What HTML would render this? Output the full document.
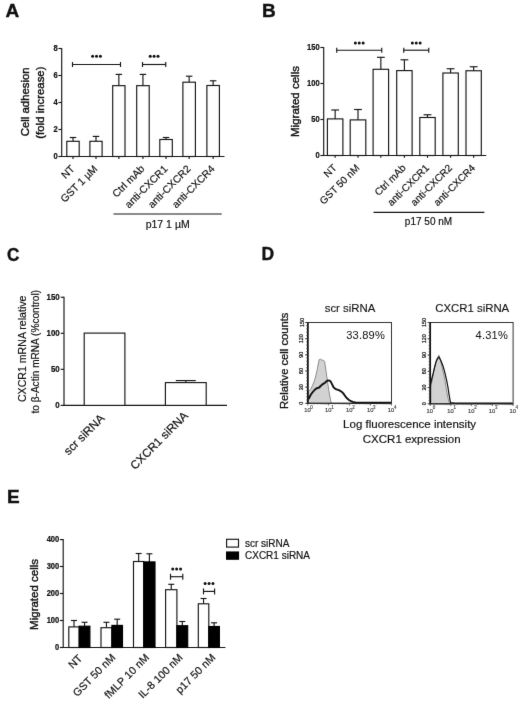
<!DOCTYPE html>
<html><head><meta charset="utf-8"><style>
html,body{margin:0;padding:0;background:#fff;}
svg{display:block;font-family:"Liberation Sans", sans-serif;}
</style></head><body>
<svg width="520" height="702" viewBox="0 0 520 702">
<defs><filter id="soft" x="0" y="0" width="520" height="702" filterUnits="userSpaceOnUse" color-interpolation-filters="sRGB"><feConvolveMatrix order="3" kernelMatrix="1 12 1 12 148 12 1 12 1" divisor="200" edgeMode="duplicate"/></filter></defs>
<g filter="url(#soft)">
<rect width="520" height="702" fill="#fff"/>
<text x="5.50" y="17.10" font-size="19" text-anchor="start" font-weight="bold" fill="#111" stroke="#111" stroke-width="0.4">A</text>
<text x="262.00" y="17.10" font-size="19" text-anchor="start" font-weight="bold" fill="#111" stroke="#111" stroke-width="0.4">B</text>
<text x="7.00" y="261.20" font-size="19" text-anchor="start" font-weight="bold" fill="#111" stroke="#111" stroke-width="0.4" transform="translate(7.00 261.20) scale(0.9 1) translate(-7.00 -261.20)">C</text>
<text x="261.50" y="260.00" font-size="19" text-anchor="start" font-weight="bold" fill="#111" stroke="#111" stroke-width="0.4" transform="translate(261.50 260.00) scale(0.92 1) translate(-261.50 -260.00)">D</text>
<text x="7.00" y="502.70" font-size="19" text-anchor="start" font-weight="bold" fill="#111" stroke="#111" stroke-width="0.4">E</text>
<line x1="61.70" y1="48.00" x2="61.70" y2="157.00" stroke="#161616" stroke-width="1.15"/>
<line x1="61.20" y1="156.50" x2="224.50" y2="156.50" stroke="#161616" stroke-width="1.15"/>
<line x1="58.40" y1="156.50" x2="61.70" y2="156.50" stroke="#161616" stroke-width="1.15"/>
<text x="57.70" y="158.70" font-size="8.6" text-anchor="end" font-weight="bold" fill="#111" stroke="#111" stroke-width="0.22" transform="translate(57.70 158.70) scale(0.88 1) translate(-57.70 -158.70)">0</text>
<line x1="58.40" y1="129.50" x2="61.70" y2="129.50" stroke="#161616" stroke-width="1.15"/>
<text x="57.70" y="131.70" font-size="8.6" text-anchor="end" font-weight="bold" fill="#111" stroke="#111" stroke-width="0.22" transform="translate(57.70 131.70) scale(0.88 1) translate(-57.70 -131.70)">2</text>
<line x1="58.40" y1="102.50" x2="61.70" y2="102.50" stroke="#161616" stroke-width="1.15"/>
<text x="57.70" y="104.70" font-size="8.6" text-anchor="end" font-weight="bold" fill="#111" stroke="#111" stroke-width="0.22" transform="translate(57.70 104.70) scale(0.88 1) translate(-57.70 -104.70)">4</text>
<line x1="58.40" y1="75.50" x2="61.70" y2="75.50" stroke="#161616" stroke-width="1.15"/>
<text x="57.70" y="77.70" font-size="8.6" text-anchor="end" font-weight="bold" fill="#111" stroke="#111" stroke-width="0.22" transform="translate(57.70 77.70) scale(0.88 1) translate(-57.70 -77.70)">6</text>
<line x1="58.40" y1="48.50" x2="61.70" y2="48.50" stroke="#161616" stroke-width="1.15"/>
<text x="57.70" y="50.70" font-size="8.6" text-anchor="end" font-weight="bold" fill="#111" stroke="#111" stroke-width="0.22" transform="translate(57.70 50.70) scale(0.88 1) translate(-57.70 -50.70)">8</text>
<line x1="73.00" y1="141.30" x2="73.00" y2="137.50" stroke="#161616" stroke-width="1.15"/>
<line x1="69.75" y1="137.50" x2="76.25" y2="137.50" stroke="#161616" stroke-width="1.15"/>
<rect x="66.80" y="141.30" width="12.40" height="15.20" fill="#fff" stroke="#161616" stroke-width="1.15"/>
<line x1="73.00" y1="156.50" x2="73.00" y2="159.10" stroke="#161616" stroke-width="1.15"/>
<line x1="96.00" y1="141.30" x2="96.00" y2="136.40" stroke="#161616" stroke-width="1.15"/>
<line x1="92.75" y1="136.40" x2="99.25" y2="136.40" stroke="#161616" stroke-width="1.15"/>
<rect x="89.90" y="141.30" width="12.20" height="15.20" fill="#fff" stroke="#161616" stroke-width="1.15"/>
<line x1="96.00" y1="156.50" x2="96.00" y2="159.10" stroke="#161616" stroke-width="1.15"/>
<line x1="118.85" y1="85.65" x2="118.85" y2="74.40" stroke="#161616" stroke-width="1.15"/>
<line x1="115.60" y1="74.40" x2="122.10" y2="74.40" stroke="#161616" stroke-width="1.15"/>
<rect x="112.70" y="85.65" width="12.30" height="70.85" fill="#fff" stroke="#161616" stroke-width="1.15"/>
<line x1="118.85" y1="156.50" x2="118.85" y2="159.10" stroke="#161616" stroke-width="1.15"/>
<line x1="142.95" y1="85.65" x2="142.95" y2="74.40" stroke="#161616" stroke-width="1.15"/>
<line x1="139.70" y1="74.40" x2="146.20" y2="74.40" stroke="#161616" stroke-width="1.15"/>
<rect x="136.70" y="85.65" width="12.50" height="70.85" fill="#fff" stroke="#161616" stroke-width="1.15"/>
<line x1="142.95" y1="156.50" x2="142.95" y2="159.10" stroke="#161616" stroke-width="1.15"/>
<line x1="166.05" y1="139.50" x2="166.05" y2="137.50" stroke="#161616" stroke-width="1.15"/>
<line x1="162.80" y1="137.50" x2="169.30" y2="137.50" stroke="#161616" stroke-width="1.15"/>
<rect x="159.80" y="139.50" width="12.50" height="17.00" fill="#fff" stroke="#161616" stroke-width="1.15"/>
<line x1="166.05" y1="156.50" x2="166.05" y2="159.10" stroke="#161616" stroke-width="1.15"/>
<line x1="189.15" y1="82.20" x2="189.15" y2="76.20" stroke="#161616" stroke-width="1.15"/>
<line x1="185.90" y1="76.20" x2="192.40" y2="76.20" stroke="#161616" stroke-width="1.15"/>
<rect x="182.90" y="82.20" width="12.50" height="74.30" fill="#fff" stroke="#161616" stroke-width="1.15"/>
<line x1="189.15" y1="156.50" x2="189.15" y2="159.10" stroke="#161616" stroke-width="1.15"/>
<line x1="213.15" y1="85.50" x2="213.15" y2="80.80" stroke="#161616" stroke-width="1.15"/>
<line x1="209.90" y1="80.80" x2="216.40" y2="80.80" stroke="#161616" stroke-width="1.15"/>
<rect x="206.90" y="85.50" width="12.50" height="71.00" fill="#fff" stroke="#161616" stroke-width="1.15"/>
<line x1="213.15" y1="156.50" x2="213.15" y2="159.10" stroke="#161616" stroke-width="1.15"/>
<line x1="72.50" y1="64.50" x2="120.50" y2="64.50" stroke="#161616" stroke-width="1.15"/>
<line x1="72.50" y1="62.00" x2="72.50" y2="67.00" stroke="#161616" stroke-width="1.15"/>
<line x1="120.50" y1="62.00" x2="120.50" y2="67.00" stroke="#161616" stroke-width="1.15"/>
<circle cx="92.60" cy="56.30" r="1.5" fill="#111"/>
<circle cx="96.50" cy="56.30" r="1.5" fill="#111"/>
<circle cx="100.40" cy="56.30" r="1.5" fill="#111"/>
<line x1="142.50" y1="64.50" x2="165.75" y2="64.50" stroke="#161616" stroke-width="1.15"/>
<line x1="142.50" y1="62.00" x2="142.50" y2="67.00" stroke="#161616" stroke-width="1.15"/>
<line x1="165.75" y1="62.00" x2="165.75" y2="67.00" stroke="#161616" stroke-width="1.15"/>
<circle cx="150.22" cy="56.30" r="1.5" fill="#111"/>
<circle cx="154.12" cy="56.30" r="1.5" fill="#111"/>
<circle cx="158.03" cy="56.30" r="1.5" fill="#111"/>
<text x="75.20" y="169.50" font-size="10.4" text-anchor="end" font-weight="normal" fill="#111" stroke="#111" stroke-width="0.18" transform="rotate(-45 75.20 169.50)">NT</text>
<text x="98.20" y="169.50" font-size="10.4" text-anchor="end" font-weight="normal" fill="#111" stroke="#111" stroke-width="0.18" transform="rotate(-45 98.20 169.50)">GST 1 &#181;M</text>
<text x="145.15" y="169.50" font-size="10.4" text-anchor="end" font-weight="normal" fill="#111" stroke="#111" stroke-width="0.18" transform="rotate(-45 145.15 169.50)">Ctrl mAb</text>
<text x="168.25" y="169.50" font-size="10.4" text-anchor="end" font-weight="normal" fill="#111" stroke="#111" stroke-width="0.18" transform="rotate(-45 168.25 169.50)">anti-CXCR1</text>
<text x="191.35" y="169.50" font-size="10.4" text-anchor="end" font-weight="normal" fill="#111" stroke="#111" stroke-width="0.18" transform="rotate(-45 191.35 169.50)">anti-CXCR2</text>
<text x="215.35" y="169.50" font-size="10.4" text-anchor="end" font-weight="normal" fill="#111" stroke="#111" stroke-width="0.18" transform="rotate(-45 215.35 169.50)">anti-CXCR4</text>
<line x1="113.50" y1="214.00" x2="221.70" y2="214.00" stroke="#161616" stroke-width="1.15"/>
<text x="167.70" y="227.70" font-size="10.5" text-anchor="middle" font-weight="normal" fill="#111" stroke="#111" stroke-width="0.18">p17 1 &#181;M</text>
<text x="29.00" y="101.80" font-size="11.4" text-anchor="middle" font-weight="normal" fill="#111" stroke="#111" stroke-width="0.4" transform="rotate(-90 29.00 101.80)">Cell adhesion</text>
<text x="44.00" y="102.60" font-size="11.4" text-anchor="middle" font-weight="normal" fill="#111" stroke="#111" stroke-width="0.4" transform="rotate(-90 44.00 102.60)">(fold increase)</text>
<line x1="323.70" y1="47.00" x2="323.70" y2="156.00" stroke="#161616" stroke-width="1.15"/>
<line x1="323.20" y1="155.50" x2="486.25" y2="155.50" stroke="#161616" stroke-width="1.15"/>
<line x1="320.40" y1="155.50" x2="323.70" y2="155.50" stroke="#161616" stroke-width="1.15"/>
<text x="319.70" y="158.20" font-size="8.6" text-anchor="end" font-weight="bold" fill="#111" stroke="#111" stroke-width="0.22" transform="translate(319.70 158.20) scale(0.88 1) translate(-319.70 -158.20)">0</text>
<line x1="320.40" y1="119.50" x2="323.70" y2="119.50" stroke="#161616" stroke-width="1.15"/>
<text x="319.70" y="122.20" font-size="8.6" text-anchor="end" font-weight="bold" fill="#111" stroke="#111" stroke-width="0.22" transform="translate(319.70 122.20) scale(0.88 1) translate(-319.70 -122.20)">50</text>
<line x1="320.40" y1="83.50" x2="323.70" y2="83.50" stroke="#161616" stroke-width="1.15"/>
<text x="319.70" y="86.20" font-size="8.6" text-anchor="end" font-weight="bold" fill="#111" stroke="#111" stroke-width="0.22" transform="translate(319.70 86.20) scale(0.88 1) translate(-319.70 -86.20)">100</text>
<line x1="320.40" y1="47.50" x2="323.70" y2="47.50" stroke="#161616" stroke-width="1.15"/>
<text x="319.70" y="50.20" font-size="8.6" text-anchor="end" font-weight="bold" fill="#111" stroke="#111" stroke-width="0.22" transform="translate(319.70 50.20) scale(0.88 1) translate(-319.70 -50.20)">150</text>
<line x1="335.15" y1="118.90" x2="335.15" y2="110.00" stroke="#161616" stroke-width="1.15"/>
<line x1="331.25" y1="110.00" x2="339.05" y2="110.00" stroke="#161616" stroke-width="1.15"/>
<rect x="327.40" y="118.90" width="15.50" height="36.60" fill="#fff" stroke="#161616" stroke-width="1.15"/>
<line x1="335.15" y1="155.50" x2="335.15" y2="157.80" stroke="#161616" stroke-width="1.15"/>
<line x1="358.00" y1="119.90" x2="358.00" y2="109.50" stroke="#161616" stroke-width="1.15"/>
<line x1="354.10" y1="109.50" x2="361.90" y2="109.50" stroke="#161616" stroke-width="1.15"/>
<rect x="350.20" y="119.90" width="15.60" height="35.60" fill="#fff" stroke="#161616" stroke-width="1.15"/>
<line x1="358.00" y1="155.50" x2="358.00" y2="157.80" stroke="#161616" stroke-width="1.15"/>
<line x1="380.85" y1="69.30" x2="380.85" y2="57.30" stroke="#161616" stroke-width="1.15"/>
<line x1="376.95" y1="57.30" x2="384.75" y2="57.30" stroke="#161616" stroke-width="1.15"/>
<rect x="373.10" y="69.30" width="15.50" height="86.20" fill="#fff" stroke="#161616" stroke-width="1.15"/>
<line x1="380.85" y1="155.50" x2="380.85" y2="157.80" stroke="#161616" stroke-width="1.15"/>
<line x1="404.40" y1="70.60" x2="404.40" y2="59.80" stroke="#161616" stroke-width="1.15"/>
<line x1="400.50" y1="59.80" x2="408.30" y2="59.80" stroke="#161616" stroke-width="1.15"/>
<rect x="396.70" y="70.60" width="15.40" height="84.90" fill="#fff" stroke="#161616" stroke-width="1.15"/>
<line x1="404.40" y1="155.50" x2="404.40" y2="157.80" stroke="#161616" stroke-width="1.15"/>
<line x1="427.50" y1="117.50" x2="427.50" y2="114.75" stroke="#161616" stroke-width="1.15"/>
<line x1="423.60" y1="114.75" x2="431.40" y2="114.75" stroke="#161616" stroke-width="1.15"/>
<rect x="419.80" y="117.50" width="15.40" height="38.00" fill="#fff" stroke="#161616" stroke-width="1.15"/>
<line x1="427.50" y1="155.50" x2="427.50" y2="157.80" stroke="#161616" stroke-width="1.15"/>
<line x1="450.60" y1="73.00" x2="450.60" y2="68.75" stroke="#161616" stroke-width="1.15"/>
<line x1="446.70" y1="68.75" x2="454.50" y2="68.75" stroke="#161616" stroke-width="1.15"/>
<rect x="442.90" y="73.00" width="15.40" height="82.50" fill="#fff" stroke="#161616" stroke-width="1.15"/>
<line x1="450.60" y1="155.50" x2="450.60" y2="157.80" stroke="#161616" stroke-width="1.15"/>
<line x1="473.65" y1="70.75" x2="473.65" y2="66.75" stroke="#161616" stroke-width="1.15"/>
<line x1="469.75" y1="66.75" x2="477.55" y2="66.75" stroke="#161616" stroke-width="1.15"/>
<rect x="466.00" y="70.75" width="15.30" height="84.75" fill="#fff" stroke="#161616" stroke-width="1.15"/>
<line x1="473.65" y1="155.50" x2="473.65" y2="157.80" stroke="#161616" stroke-width="1.15"/>
<line x1="336.75" y1="50.20" x2="381.75" y2="50.20" stroke="#161616" stroke-width="1.15"/>
<line x1="336.75" y1="47.70" x2="336.75" y2="52.70" stroke="#161616" stroke-width="1.15"/>
<line x1="381.75" y1="47.70" x2="381.75" y2="52.70" stroke="#161616" stroke-width="1.15"/>
<circle cx="355.35" cy="43.10" r="1.5" fill="#111"/>
<circle cx="359.25" cy="43.10" r="1.5" fill="#111"/>
<circle cx="363.15" cy="43.10" r="1.5" fill="#111"/>
<line x1="403.75" y1="50.20" x2="428.75" y2="50.20" stroke="#161616" stroke-width="1.15"/>
<line x1="403.75" y1="47.70" x2="403.75" y2="52.70" stroke="#161616" stroke-width="1.15"/>
<line x1="428.75" y1="47.70" x2="428.75" y2="52.70" stroke="#161616" stroke-width="1.15"/>
<circle cx="412.35" cy="43.10" r="1.5" fill="#111"/>
<circle cx="416.25" cy="43.10" r="1.5" fill="#111"/>
<circle cx="420.15" cy="43.10" r="1.5" fill="#111"/>
<text x="337.35" y="168.50" font-size="10.1" text-anchor="end" font-weight="normal" fill="#111" stroke="#111" stroke-width="0.18" transform="rotate(-45 337.35 168.50)">NT</text>
<text x="360.20" y="168.50" font-size="10.1" text-anchor="end" font-weight="normal" fill="#111" stroke="#111" stroke-width="0.18" transform="rotate(-45 360.20 168.50)">GST 50 nM</text>
<text x="406.60" y="168.50" font-size="10.1" text-anchor="end" font-weight="normal" fill="#111" stroke="#111" stroke-width="0.18" transform="rotate(-45 406.60 168.50)">Ctrl mAb</text>
<text x="429.70" y="168.50" font-size="10.1" text-anchor="end" font-weight="normal" fill="#111" stroke="#111" stroke-width="0.18" transform="rotate(-45 429.70 168.50)">anti-CXCR1</text>
<text x="452.80" y="168.50" font-size="10.1" text-anchor="end" font-weight="normal" fill="#111" stroke="#111" stroke-width="0.18" transform="rotate(-45 452.80 168.50)">anti-CXCR2</text>
<text x="475.85" y="168.50" font-size="10.1" text-anchor="end" font-weight="normal" fill="#111" stroke="#111" stroke-width="0.18" transform="rotate(-45 475.85 168.50)">anti-CXCR4</text>
<line x1="373.50" y1="212.30" x2="484.40" y2="212.30" stroke="#161616" stroke-width="1.15"/>
<text x="428.50" y="225.40" font-size="10" text-anchor="middle" font-weight="normal" fill="#111" stroke="#111" stroke-width="0.18">p17 50 nM</text>
<text x="298.90" y="101.50" font-size="11.5" text-anchor="middle" font-weight="normal" fill="#111" stroke="#111" stroke-width="0.4" transform="rotate(-90 298.90 101.50)">Migrated cells</text>
<line x1="64.00" y1="296.75" x2="64.00" y2="405.90" stroke="#161616" stroke-width="1.15"/>
<line x1="63.50" y1="405.40" x2="227.00" y2="405.40" stroke="#161616" stroke-width="1.15"/>
<line x1="60.70" y1="405.40" x2="64.00" y2="405.40" stroke="#161616" stroke-width="1.15"/>
<text x="59.70" y="408.40" font-size="8.6" text-anchor="end" font-weight="bold" fill="#111" stroke="#111" stroke-width="0.22" transform="translate(59.70 408.40) scale(0.92 1) translate(-59.70 -408.40)">0</text>
<line x1="60.70" y1="369.35" x2="64.00" y2="369.35" stroke="#161616" stroke-width="1.15"/>
<text x="59.70" y="372.35" font-size="8.6" text-anchor="end" font-weight="bold" fill="#111" stroke="#111" stroke-width="0.22" transform="translate(59.70 372.35) scale(0.92 1) translate(-59.70 -372.35)">50</text>
<line x1="60.70" y1="333.30" x2="64.00" y2="333.30" stroke="#161616" stroke-width="1.15"/>
<text x="59.70" y="336.30" font-size="8.6" text-anchor="end" font-weight="bold" fill="#111" stroke="#111" stroke-width="0.22" transform="translate(59.70 336.30) scale(0.92 1) translate(-59.70 -336.30)">100</text>
<line x1="60.70" y1="297.25" x2="64.00" y2="297.25" stroke="#161616" stroke-width="1.15"/>
<text x="59.70" y="300.25" font-size="8.6" text-anchor="end" font-weight="bold" fill="#111" stroke="#111" stroke-width="0.22" transform="translate(59.70 300.25) scale(0.92 1) translate(-59.70 -300.25)">150</text>
<rect x="84.20" y="333.10" width="40.70" height="72.30" fill="#fff" stroke="#161616" stroke-width="1.15"/>
<line x1="185.80" y1="382.60" x2="185.80" y2="380.60" stroke="#161616" stroke-width="1.15"/>
<line x1="175.80" y1="380.60" x2="195.80" y2="380.60" stroke="#161616" stroke-width="1.15"/>
<rect x="165.40" y="382.60" width="40.80" height="22.80" fill="#fff" stroke="#161616" stroke-width="1.15"/>
<text x="105.30" y="419.00" font-size="11.7" text-anchor="end" font-weight="normal" fill="#111" stroke="#111" stroke-width="0.18" transform="rotate(-45 105.30 419.00)">scr siRNA</text>
<text x="188.70" y="416.40" font-size="11.7" text-anchor="end" font-weight="normal" fill="#111" stroke="#111" stroke-width="0.18" transform="rotate(-45 188.70 416.40)">CXCR1 siRNA</text>
<text x="26.00" y="348.80" font-size="10.6" text-anchor="middle" font-weight="normal" fill="#111" stroke="#111" stroke-width="0.18" transform="rotate(-90 26.00 348.80)">CXCR1 mRNA relative</text>
<text x="38.60" y="351.70" font-size="10.1" text-anchor="middle" font-weight="normal" fill="#111" stroke="#111" stroke-width="0.18" transform="rotate(-90 38.60 351.70)">to &#946;-Actin mRNA (%control)</text>
<rect x="307.80" y="322.50" width="83.70" height="80.80" fill="#fff" stroke="#333" stroke-width="1.0"/>
<text x="350.00" y="311.50" font-size="11.4" text-anchor="middle" font-weight="normal" fill="#111" stroke="#111" stroke-width="0.12">scr siRNA</text>
<text x="385.00" y="339.00" font-size="11.1" text-anchor="end" font-weight="normal" fill="#111" stroke="#111" stroke-width="0.02" letter-spacing="0.2">33.89%</text>
<polygon points="308.5,403.2 308.5,391.5 310.6,389.4 312.5,385.5 314.4,380.8 316.0,375.0 317.3,369.2 318.4,363.0 319.2,359.6 320.5,359.2 322.0,360.2 323.5,360.3 324.6,361.5 325.6,368.0 326.9,376.9 328.8,390.4 330.2,398.0 331.3,403.2" fill="#d2d2d2" stroke="#666" stroke-width="0.7" stroke-linejoin="round"/>
<polyline points="308.6,399.0 310.5,395.3 312.5,392.3 314.5,390.0 316.3,388.5 318.0,387.8 319.2,387.5 320.6,386.0 322.1,384.6 323.6,383.6 325.0,382.7 326.5,381.3 327.9,380.4 329.5,380.6 330.8,381.7 332.3,384.8 333.7,387.5 335.0,388.6 336.5,389.4 338.0,389.8 339.4,390.4 340.8,391.2 342.3,392.3 343.8,394.0 345.2,396.2 347.0,398.3 349.0,400.0 351.0,401.2 352.9,401.9 356.0,402.6 391.0,402.8" fill="none" stroke="#111" stroke-width="1.9" stroke-linejoin="round"/>
<line x1="307.80" y1="403.30" x2="391.50" y2="403.30" stroke="#1a1a1a" stroke-width="1.1"/>
<line x1="307.80" y1="322.00" x2="307.80" y2="403.80" stroke="#111" stroke-width="1.7"/>
<line x1="306.20" y1="403.30" x2="307.80" y2="403.30" stroke="#444" stroke-width="0.8"/>
<line x1="306.20" y1="400.07" x2="307.80" y2="400.07" stroke="#444" stroke-width="0.8"/>
<line x1="306.20" y1="396.84" x2="307.80" y2="396.84" stroke="#444" stroke-width="0.8"/>
<line x1="306.20" y1="393.60" x2="307.80" y2="393.60" stroke="#444" stroke-width="0.8"/>
<line x1="306.20" y1="390.37" x2="307.80" y2="390.37" stroke="#444" stroke-width="0.8"/>
<line x1="306.20" y1="387.14" x2="307.80" y2="387.14" stroke="#444" stroke-width="0.8"/>
<line x1="306.20" y1="383.91" x2="307.80" y2="383.91" stroke="#444" stroke-width="0.8"/>
<line x1="306.20" y1="380.68" x2="307.80" y2="380.68" stroke="#444" stroke-width="0.8"/>
<line x1="306.20" y1="377.44" x2="307.80" y2="377.44" stroke="#444" stroke-width="0.8"/>
<line x1="306.20" y1="374.21" x2="307.80" y2="374.21" stroke="#444" stroke-width="0.8"/>
<line x1="306.20" y1="370.98" x2="307.80" y2="370.98" stroke="#444" stroke-width="0.8"/>
<line x1="306.20" y1="367.75" x2="307.80" y2="367.75" stroke="#444" stroke-width="0.8"/>
<line x1="306.20" y1="364.52" x2="307.80" y2="364.52" stroke="#444" stroke-width="0.8"/>
<line x1="306.20" y1="361.28" x2="307.80" y2="361.28" stroke="#444" stroke-width="0.8"/>
<line x1="306.20" y1="358.05" x2="307.80" y2="358.05" stroke="#444" stroke-width="0.8"/>
<line x1="306.20" y1="354.82" x2="307.80" y2="354.82" stroke="#444" stroke-width="0.8"/>
<line x1="306.20" y1="351.59" x2="307.80" y2="351.59" stroke="#444" stroke-width="0.8"/>
<line x1="306.20" y1="348.36" x2="307.80" y2="348.36" stroke="#444" stroke-width="0.8"/>
<line x1="306.20" y1="345.12" x2="307.80" y2="345.12" stroke="#444" stroke-width="0.8"/>
<line x1="306.20" y1="341.89" x2="307.80" y2="341.89" stroke="#444" stroke-width="0.8"/>
<line x1="306.20" y1="338.66" x2="307.80" y2="338.66" stroke="#444" stroke-width="0.8"/>
<line x1="306.20" y1="335.43" x2="307.80" y2="335.43" stroke="#444" stroke-width="0.8"/>
<line x1="306.20" y1="332.20" x2="307.80" y2="332.20" stroke="#444" stroke-width="0.8"/>
<line x1="306.20" y1="328.96" x2="307.80" y2="328.96" stroke="#444" stroke-width="0.8"/>
<line x1="306.20" y1="325.73" x2="307.80" y2="325.73" stroke="#444" stroke-width="0.8"/>
<line x1="306.20" y1="322.50" x2="307.80" y2="322.50" stroke="#444" stroke-width="0.8"/>
<text x="303.50" y="403.30" font-size="5.4" text-anchor="middle" font-weight="normal" fill="#222" stroke="#222" stroke-width="0.25" transform="rotate(-90 303.50 403.30)">0</text>
<line x1="305.20" y1="403.30" x2="307.80" y2="403.30" stroke="#333" stroke-width="0.9"/>
<text x="303.50" y="387.14" font-size="5.4" text-anchor="middle" font-weight="normal" fill="#222" stroke="#222" stroke-width="0.25" transform="rotate(-90 303.50 387.14)">30</text>
<line x1="305.20" y1="387.14" x2="307.80" y2="387.14" stroke="#333" stroke-width="0.9"/>
<text x="303.50" y="370.98" font-size="5.4" text-anchor="middle" font-weight="normal" fill="#222" stroke="#222" stroke-width="0.25" transform="rotate(-90 303.50 370.98)">60</text>
<line x1="305.20" y1="370.98" x2="307.80" y2="370.98" stroke="#333" stroke-width="0.9"/>
<text x="303.50" y="354.82" font-size="5.4" text-anchor="middle" font-weight="normal" fill="#222" stroke="#222" stroke-width="0.25" transform="rotate(-90 303.50 354.82)">90</text>
<line x1="305.20" y1="354.82" x2="307.80" y2="354.82" stroke="#333" stroke-width="0.9"/>
<text x="303.50" y="338.66" font-size="5.4" text-anchor="middle" font-weight="normal" fill="#222" stroke="#222" stroke-width="0.25" transform="rotate(-90 303.50 338.66)">120</text>
<line x1="305.20" y1="338.66" x2="307.80" y2="338.66" stroke="#333" stroke-width="0.9"/>
<text x="303.50" y="322.50" font-size="5.4" text-anchor="middle" font-weight="normal" fill="#222" stroke="#222" stroke-width="0.25" transform="rotate(-90 303.50 322.50)">150</text>
<line x1="305.20" y1="322.50" x2="307.80" y2="322.50" stroke="#333" stroke-width="0.9"/>
<text x="307.40" y="412.30" font-size="5.8" text-anchor="middle" font-weight="normal" fill="#3a3a3a" stroke="#3a3a3a" stroke-width="0.15">10</text>
<text x="310.30" y="408.90" font-size="4.5" text-anchor="start" font-weight="normal" fill="#3a3a3a" stroke="#3a3a3a" stroke-width="0.12">0</text>
<line x1="307.80" y1="403.30" x2="307.80" y2="405.50" stroke="#444" stroke-width="0.8"/>
<line x1="314.10" y1="403.30" x2="314.10" y2="404.60" stroke="#555" stroke-width="0.6"/>
<line x1="317.78" y1="403.30" x2="317.78" y2="404.60" stroke="#555" stroke-width="0.6"/>
<line x1="320.40" y1="403.30" x2="320.40" y2="404.60" stroke="#555" stroke-width="0.6"/>
<line x1="322.43" y1="403.30" x2="322.43" y2="404.60" stroke="#555" stroke-width="0.6"/>
<line x1="324.08" y1="403.30" x2="324.08" y2="404.60" stroke="#555" stroke-width="0.6"/>
<line x1="325.48" y1="403.30" x2="325.48" y2="404.60" stroke="#555" stroke-width="0.6"/>
<line x1="326.70" y1="403.30" x2="326.70" y2="404.60" stroke="#555" stroke-width="0.6"/>
<line x1="327.77" y1="403.30" x2="327.77" y2="404.60" stroke="#555" stroke-width="0.6"/>
<text x="328.33" y="412.30" font-size="5.8" text-anchor="middle" font-weight="normal" fill="#3a3a3a" stroke="#3a3a3a" stroke-width="0.15">10</text>
<text x="331.23" y="408.90" font-size="4.5" text-anchor="start" font-weight="normal" fill="#3a3a3a" stroke="#3a3a3a" stroke-width="0.12">1</text>
<line x1="328.73" y1="403.30" x2="328.73" y2="405.50" stroke="#444" stroke-width="0.8"/>
<line x1="335.02" y1="403.30" x2="335.02" y2="404.60" stroke="#555" stroke-width="0.6"/>
<line x1="338.71" y1="403.30" x2="338.71" y2="404.60" stroke="#555" stroke-width="0.6"/>
<line x1="341.32" y1="403.30" x2="341.32" y2="404.60" stroke="#555" stroke-width="0.6"/>
<line x1="343.35" y1="403.30" x2="343.35" y2="404.60" stroke="#555" stroke-width="0.6"/>
<line x1="345.01" y1="403.30" x2="345.01" y2="404.60" stroke="#555" stroke-width="0.6"/>
<line x1="346.41" y1="403.30" x2="346.41" y2="404.60" stroke="#555" stroke-width="0.6"/>
<line x1="347.62" y1="403.30" x2="347.62" y2="404.60" stroke="#555" stroke-width="0.6"/>
<line x1="348.69" y1="403.30" x2="348.69" y2="404.60" stroke="#555" stroke-width="0.6"/>
<text x="349.25" y="412.30" font-size="5.8" text-anchor="middle" font-weight="normal" fill="#3a3a3a" stroke="#3a3a3a" stroke-width="0.15">10</text>
<text x="352.15" y="408.90" font-size="4.5" text-anchor="start" font-weight="normal" fill="#3a3a3a" stroke="#3a3a3a" stroke-width="0.12">2</text>
<line x1="349.65" y1="403.30" x2="349.65" y2="405.50" stroke="#444" stroke-width="0.8"/>
<line x1="355.95" y1="403.30" x2="355.95" y2="404.60" stroke="#555" stroke-width="0.6"/>
<line x1="359.63" y1="403.30" x2="359.63" y2="404.60" stroke="#555" stroke-width="0.6"/>
<line x1="362.25" y1="403.30" x2="362.25" y2="404.60" stroke="#555" stroke-width="0.6"/>
<line x1="364.28" y1="403.30" x2="364.28" y2="404.60" stroke="#555" stroke-width="0.6"/>
<line x1="365.93" y1="403.30" x2="365.93" y2="404.60" stroke="#555" stroke-width="0.6"/>
<line x1="367.33" y1="403.30" x2="367.33" y2="404.60" stroke="#555" stroke-width="0.6"/>
<line x1="368.55" y1="403.30" x2="368.55" y2="404.60" stroke="#555" stroke-width="0.6"/>
<line x1="369.62" y1="403.30" x2="369.62" y2="404.60" stroke="#555" stroke-width="0.6"/>
<text x="370.18" y="412.30" font-size="5.8" text-anchor="middle" font-weight="normal" fill="#3a3a3a" stroke="#3a3a3a" stroke-width="0.15">10</text>
<text x="373.07" y="408.90" font-size="4.5" text-anchor="start" font-weight="normal" fill="#3a3a3a" stroke="#3a3a3a" stroke-width="0.12">3</text>
<line x1="370.57" y1="403.30" x2="370.57" y2="405.50" stroke="#444" stroke-width="0.8"/>
<line x1="376.87" y1="403.30" x2="376.87" y2="404.60" stroke="#555" stroke-width="0.6"/>
<line x1="380.56" y1="403.30" x2="380.56" y2="404.60" stroke="#555" stroke-width="0.6"/>
<line x1="383.17" y1="403.30" x2="383.17" y2="404.60" stroke="#555" stroke-width="0.6"/>
<line x1="385.20" y1="403.30" x2="385.20" y2="404.60" stroke="#555" stroke-width="0.6"/>
<line x1="386.86" y1="403.30" x2="386.86" y2="404.60" stroke="#555" stroke-width="0.6"/>
<line x1="388.26" y1="403.30" x2="388.26" y2="404.60" stroke="#555" stroke-width="0.6"/>
<line x1="389.47" y1="403.30" x2="389.47" y2="404.60" stroke="#555" stroke-width="0.6"/>
<line x1="390.54" y1="403.30" x2="390.54" y2="404.60" stroke="#555" stroke-width="0.6"/>
<text x="391.10" y="412.30" font-size="5.8" text-anchor="middle" font-weight="normal" fill="#3a3a3a" stroke="#3a3a3a" stroke-width="0.15">10</text>
<text x="394.00" y="408.90" font-size="4.5" text-anchor="start" font-weight="normal" fill="#3a3a3a" stroke="#3a3a3a" stroke-width="0.12">4</text>
<line x1="391.50" y1="403.30" x2="391.50" y2="405.50" stroke="#444" stroke-width="0.8"/>
<rect x="430.20" y="322.50" width="82.90" height="81.30" fill="#fff" stroke="#333" stroke-width="1.0"/>
<text x="472.20" y="311.50" font-size="11.4" text-anchor="middle" font-weight="normal" fill="#111" stroke="#111" stroke-width="0.12">CXCR1 siRNA</text>
<text x="508.00" y="339.00" font-size="11.1" text-anchor="end" font-weight="normal" fill="#111" stroke="#111" stroke-width="0.02" letter-spacing="0.2">4.31%</text>
<polygon points="430.8,403.8 430.8,387.6 432.5,378.0 434.3,368.1 435.8,362.0 437.0,358.9 438.9,355.2 440.3,358.9 442.1,367.2 443.5,373.5 444.9,380.2 446.3,388.5 447.7,396.9 449.5,403.8" fill="#d2d2d2" stroke="#666" stroke-width="0.7" stroke-linejoin="round"/>
<polyline points="430.6,383.9 432.0,378.0 433.3,372.8 434.7,367.0 436.1,361.7 437.5,358.6 438.9,357.0 440.9,360.7 443.1,366.3 444.4,370.9 445.6,375.8 446.8,381.1 448.0,387.5 449.1,395.0 450.5,402.6 455.0,403.2 512.5,403.2" fill="none" stroke="#111" stroke-width="1.25" stroke-linejoin="round"/>
<line x1="430.20" y1="403.80" x2="513.10" y2="403.80" stroke="#1a1a1a" stroke-width="1.1"/>
<line x1="430.20" y1="322.00" x2="430.20" y2="404.30" stroke="#111" stroke-width="1.7"/>
<line x1="428.60" y1="403.80" x2="430.20" y2="403.80" stroke="#444" stroke-width="0.8"/>
<line x1="428.60" y1="400.55" x2="430.20" y2="400.55" stroke="#444" stroke-width="0.8"/>
<line x1="428.60" y1="397.30" x2="430.20" y2="397.30" stroke="#444" stroke-width="0.8"/>
<line x1="428.60" y1="394.04" x2="430.20" y2="394.04" stroke="#444" stroke-width="0.8"/>
<line x1="428.60" y1="390.79" x2="430.20" y2="390.79" stroke="#444" stroke-width="0.8"/>
<line x1="428.60" y1="387.54" x2="430.20" y2="387.54" stroke="#444" stroke-width="0.8"/>
<line x1="428.60" y1="384.29" x2="430.20" y2="384.29" stroke="#444" stroke-width="0.8"/>
<line x1="428.60" y1="381.04" x2="430.20" y2="381.04" stroke="#444" stroke-width="0.8"/>
<line x1="428.60" y1="377.78" x2="430.20" y2="377.78" stroke="#444" stroke-width="0.8"/>
<line x1="428.60" y1="374.53" x2="430.20" y2="374.53" stroke="#444" stroke-width="0.8"/>
<line x1="428.60" y1="371.28" x2="430.20" y2="371.28" stroke="#444" stroke-width="0.8"/>
<line x1="428.60" y1="368.03" x2="430.20" y2="368.03" stroke="#444" stroke-width="0.8"/>
<line x1="428.60" y1="364.78" x2="430.20" y2="364.78" stroke="#444" stroke-width="0.8"/>
<line x1="428.60" y1="361.52" x2="430.20" y2="361.52" stroke="#444" stroke-width="0.8"/>
<line x1="428.60" y1="358.27" x2="430.20" y2="358.27" stroke="#444" stroke-width="0.8"/>
<line x1="428.60" y1="355.02" x2="430.20" y2="355.02" stroke="#444" stroke-width="0.8"/>
<line x1="428.60" y1="351.77" x2="430.20" y2="351.77" stroke="#444" stroke-width="0.8"/>
<line x1="428.60" y1="348.52" x2="430.20" y2="348.52" stroke="#444" stroke-width="0.8"/>
<line x1="428.60" y1="345.26" x2="430.20" y2="345.26" stroke="#444" stroke-width="0.8"/>
<line x1="428.60" y1="342.01" x2="430.20" y2="342.01" stroke="#444" stroke-width="0.8"/>
<line x1="428.60" y1="338.76" x2="430.20" y2="338.76" stroke="#444" stroke-width="0.8"/>
<line x1="428.60" y1="335.51" x2="430.20" y2="335.51" stroke="#444" stroke-width="0.8"/>
<line x1="428.60" y1="332.26" x2="430.20" y2="332.26" stroke="#444" stroke-width="0.8"/>
<line x1="428.60" y1="329.00" x2="430.20" y2="329.00" stroke="#444" stroke-width="0.8"/>
<line x1="428.60" y1="325.75" x2="430.20" y2="325.75" stroke="#444" stroke-width="0.8"/>
<line x1="428.60" y1="322.50" x2="430.20" y2="322.50" stroke="#444" stroke-width="0.8"/>
<text x="425.90" y="403.80" font-size="5.4" text-anchor="middle" font-weight="normal" fill="#222" stroke="#222" stroke-width="0.25" transform="rotate(-90 425.90 403.80)">0</text>
<line x1="427.60" y1="403.80" x2="430.20" y2="403.80" stroke="#333" stroke-width="0.9"/>
<text x="425.90" y="387.54" font-size="5.4" text-anchor="middle" font-weight="normal" fill="#222" stroke="#222" stroke-width="0.25" transform="rotate(-90 425.90 387.54)">30</text>
<line x1="427.60" y1="387.54" x2="430.20" y2="387.54" stroke="#333" stroke-width="0.9"/>
<text x="425.90" y="371.28" font-size="5.4" text-anchor="middle" font-weight="normal" fill="#222" stroke="#222" stroke-width="0.25" transform="rotate(-90 425.90 371.28)">60</text>
<line x1="427.60" y1="371.28" x2="430.20" y2="371.28" stroke="#333" stroke-width="0.9"/>
<text x="425.90" y="355.02" font-size="5.4" text-anchor="middle" font-weight="normal" fill="#222" stroke="#222" stroke-width="0.25" transform="rotate(-90 425.90 355.02)">90</text>
<line x1="427.60" y1="355.02" x2="430.20" y2="355.02" stroke="#333" stroke-width="0.9"/>
<text x="425.90" y="338.76" font-size="5.4" text-anchor="middle" font-weight="normal" fill="#222" stroke="#222" stroke-width="0.25" transform="rotate(-90 425.90 338.76)">120</text>
<line x1="427.60" y1="338.76" x2="430.20" y2="338.76" stroke="#333" stroke-width="0.9"/>
<text x="425.90" y="322.50" font-size="5.4" text-anchor="middle" font-weight="normal" fill="#222" stroke="#222" stroke-width="0.25" transform="rotate(-90 425.90 322.50)">150</text>
<line x1="427.60" y1="322.50" x2="430.20" y2="322.50" stroke="#333" stroke-width="0.9"/>
<text x="429.80" y="412.80" font-size="5.8" text-anchor="middle" font-weight="normal" fill="#3a3a3a" stroke="#3a3a3a" stroke-width="0.15">10</text>
<text x="432.70" y="409.40" font-size="4.5" text-anchor="start" font-weight="normal" fill="#3a3a3a" stroke="#3a3a3a" stroke-width="0.12">0</text>
<line x1="430.20" y1="403.80" x2="430.20" y2="406.00" stroke="#444" stroke-width="0.8"/>
<line x1="436.44" y1="403.80" x2="436.44" y2="405.10" stroke="#555" stroke-width="0.6"/>
<line x1="440.09" y1="403.80" x2="440.09" y2="405.10" stroke="#555" stroke-width="0.6"/>
<line x1="442.68" y1="403.80" x2="442.68" y2="405.10" stroke="#555" stroke-width="0.6"/>
<line x1="444.69" y1="403.80" x2="444.69" y2="405.10" stroke="#555" stroke-width="0.6"/>
<line x1="446.33" y1="403.80" x2="446.33" y2="405.10" stroke="#555" stroke-width="0.6"/>
<line x1="447.71" y1="403.80" x2="447.71" y2="405.10" stroke="#555" stroke-width="0.6"/>
<line x1="448.92" y1="403.80" x2="448.92" y2="405.10" stroke="#555" stroke-width="0.6"/>
<line x1="449.98" y1="403.80" x2="449.98" y2="405.10" stroke="#555" stroke-width="0.6"/>
<text x="450.53" y="412.80" font-size="5.8" text-anchor="middle" font-weight="normal" fill="#3a3a3a" stroke="#3a3a3a" stroke-width="0.15">10</text>
<text x="453.43" y="409.40" font-size="4.5" text-anchor="start" font-weight="normal" fill="#3a3a3a" stroke="#3a3a3a" stroke-width="0.12">1</text>
<line x1="450.93" y1="403.80" x2="450.93" y2="406.00" stroke="#444" stroke-width="0.8"/>
<line x1="457.16" y1="403.80" x2="457.16" y2="405.10" stroke="#555" stroke-width="0.6"/>
<line x1="460.81" y1="403.80" x2="460.81" y2="405.10" stroke="#555" stroke-width="0.6"/>
<line x1="463.40" y1="403.80" x2="463.40" y2="405.10" stroke="#555" stroke-width="0.6"/>
<line x1="465.41" y1="403.80" x2="465.41" y2="405.10" stroke="#555" stroke-width="0.6"/>
<line x1="467.05" y1="403.80" x2="467.05" y2="405.10" stroke="#555" stroke-width="0.6"/>
<line x1="468.44" y1="403.80" x2="468.44" y2="405.10" stroke="#555" stroke-width="0.6"/>
<line x1="469.64" y1="403.80" x2="469.64" y2="405.10" stroke="#555" stroke-width="0.6"/>
<line x1="470.70" y1="403.80" x2="470.70" y2="405.10" stroke="#555" stroke-width="0.6"/>
<text x="471.25" y="412.80" font-size="5.8" text-anchor="middle" font-weight="normal" fill="#3a3a3a" stroke="#3a3a3a" stroke-width="0.15">10</text>
<text x="474.15" y="409.40" font-size="4.5" text-anchor="start" font-weight="normal" fill="#3a3a3a" stroke="#3a3a3a" stroke-width="0.12">2</text>
<line x1="471.65" y1="403.80" x2="471.65" y2="406.00" stroke="#444" stroke-width="0.8"/>
<line x1="477.89" y1="403.80" x2="477.89" y2="405.10" stroke="#555" stroke-width="0.6"/>
<line x1="481.54" y1="403.80" x2="481.54" y2="405.10" stroke="#555" stroke-width="0.6"/>
<line x1="484.13" y1="403.80" x2="484.13" y2="405.10" stroke="#555" stroke-width="0.6"/>
<line x1="486.14" y1="403.80" x2="486.14" y2="405.10" stroke="#555" stroke-width="0.6"/>
<line x1="487.78" y1="403.80" x2="487.78" y2="405.10" stroke="#555" stroke-width="0.6"/>
<line x1="489.16" y1="403.80" x2="489.16" y2="405.10" stroke="#555" stroke-width="0.6"/>
<line x1="490.37" y1="403.80" x2="490.37" y2="405.10" stroke="#555" stroke-width="0.6"/>
<line x1="491.43" y1="403.80" x2="491.43" y2="405.10" stroke="#555" stroke-width="0.6"/>
<text x="491.98" y="412.80" font-size="5.8" text-anchor="middle" font-weight="normal" fill="#3a3a3a" stroke="#3a3a3a" stroke-width="0.15">10</text>
<text x="494.88" y="409.40" font-size="4.5" text-anchor="start" font-weight="normal" fill="#3a3a3a" stroke="#3a3a3a" stroke-width="0.12">3</text>
<line x1="492.38" y1="403.80" x2="492.38" y2="406.00" stroke="#444" stroke-width="0.8"/>
<line x1="498.61" y1="403.80" x2="498.61" y2="405.10" stroke="#555" stroke-width="0.6"/>
<line x1="502.26" y1="403.80" x2="502.26" y2="405.10" stroke="#555" stroke-width="0.6"/>
<line x1="504.85" y1="403.80" x2="504.85" y2="405.10" stroke="#555" stroke-width="0.6"/>
<line x1="506.86" y1="403.80" x2="506.86" y2="405.10" stroke="#555" stroke-width="0.6"/>
<line x1="508.50" y1="403.80" x2="508.50" y2="405.10" stroke="#555" stroke-width="0.6"/>
<line x1="509.89" y1="403.80" x2="509.89" y2="405.10" stroke="#555" stroke-width="0.6"/>
<line x1="511.09" y1="403.80" x2="511.09" y2="405.10" stroke="#555" stroke-width="0.6"/>
<line x1="512.15" y1="403.80" x2="512.15" y2="405.10" stroke="#555" stroke-width="0.6"/>
<text x="512.70" y="412.80" font-size="5.8" text-anchor="middle" font-weight="normal" fill="#3a3a3a" stroke="#3a3a3a" stroke-width="0.15">10</text>
<text x="515.60" y="409.40" font-size="4.5" text-anchor="start" font-weight="normal" fill="#3a3a3a" stroke="#3a3a3a" stroke-width="0.12">4</text>
<line x1="513.10" y1="403.80" x2="513.10" y2="406.00" stroke="#444" stroke-width="0.8"/>
<text x="288.30" y="360.80" font-size="11.2" text-anchor="middle" font-weight="normal" fill="#111" stroke="#111" stroke-width="0.3" transform="rotate(-90 288.30 360.80)">Relative cell counts</text>
<text x="409.60" y="428.40" font-size="11.5" text-anchor="middle" font-weight="normal" fill="#111" stroke="#111" stroke-width="0.18">Log fluorescence intensity</text>
<text x="411.70" y="443.40" font-size="11.5" text-anchor="middle" font-weight="normal" fill="#111" stroke="#111" stroke-width="0.18">CXCR1 expression</text>
<line x1="63.20" y1="539.10" x2="63.20" y2="648.00" stroke="#161616" stroke-width="1.15"/>
<line x1="62.70" y1="647.50" x2="225.40" y2="647.50" stroke="#161616" stroke-width="1.15"/>
<line x1="59.90" y1="647.50" x2="63.20" y2="647.50" stroke="#161616" stroke-width="1.15"/>
<text x="59.30" y="649.80" font-size="8.6" text-anchor="end" font-weight="bold" fill="#111" stroke="#111" stroke-width="0.22" transform="translate(59.30 649.80) scale(0.88 1) translate(-59.30 -649.80)">0</text>
<line x1="59.90" y1="620.50" x2="63.20" y2="620.50" stroke="#161616" stroke-width="1.15"/>
<text x="59.30" y="622.80" font-size="8.6" text-anchor="end" font-weight="bold" fill="#111" stroke="#111" stroke-width="0.22" transform="translate(59.30 622.80) scale(0.88 1) translate(-59.30 -622.80)">100</text>
<line x1="59.90" y1="593.50" x2="63.20" y2="593.50" stroke="#161616" stroke-width="1.15"/>
<text x="59.30" y="595.80" font-size="8.6" text-anchor="end" font-weight="bold" fill="#111" stroke="#111" stroke-width="0.22" transform="translate(59.30 595.80) scale(0.88 1) translate(-59.30 -595.80)">200</text>
<line x1="59.90" y1="566.50" x2="63.20" y2="566.50" stroke="#161616" stroke-width="1.15"/>
<text x="59.30" y="568.80" font-size="8.6" text-anchor="end" font-weight="bold" fill="#111" stroke="#111" stroke-width="0.22" transform="translate(59.30 568.80) scale(0.88 1) translate(-59.30 -568.80)">300</text>
<line x1="59.90" y1="539.60" x2="63.20" y2="539.60" stroke="#161616" stroke-width="1.15"/>
<text x="59.30" y="541.90" font-size="8.6" text-anchor="end" font-weight="bold" fill="#111" stroke="#111" stroke-width="0.22" transform="translate(59.30 541.90) scale(0.88 1) translate(-59.30 -541.90)">400</text>
<line x1="74.00" y1="626.90" x2="74.00" y2="620.50" stroke="#161616" stroke-width="1.15"/>
<line x1="71.00" y1="620.50" x2="77.00" y2="620.50" stroke="#161616" stroke-width="1.15"/>
<line x1="84.55" y1="626.20" x2="84.55" y2="622.30" stroke="#161616" stroke-width="1.15"/>
<line x1="81.55" y1="622.30" x2="87.55" y2="622.30" stroke="#161616" stroke-width="1.15"/>
<rect x="68.80" y="626.90" width="10.40" height="20.60" fill="#fff" stroke="#161616" stroke-width="1.15"/>
<rect x="79.20" y="626.20" width="10.70" height="21.30" fill="#000" stroke="#000" stroke-width="1.15"/>
<line x1="106.45" y1="627.70" x2="106.45" y2="622.30" stroke="#161616" stroke-width="1.15"/>
<line x1="103.45" y1="622.30" x2="109.45" y2="622.30" stroke="#161616" stroke-width="1.15"/>
<line x1="117.20" y1="625.40" x2="117.20" y2="619.20" stroke="#161616" stroke-width="1.15"/>
<line x1="114.20" y1="619.20" x2="120.20" y2="619.20" stroke="#161616" stroke-width="1.15"/>
<rect x="101.00" y="627.70" width="10.90" height="19.80" fill="#fff" stroke="#161616" stroke-width="1.15"/>
<rect x="111.90" y="625.40" width="10.60" height="22.10" fill="#000" stroke="#000" stroke-width="1.15"/>
<line x1="138.65" y1="561.50" x2="138.65" y2="553.50" stroke="#161616" stroke-width="1.15"/>
<line x1="135.65" y1="553.50" x2="141.65" y2="553.50" stroke="#161616" stroke-width="1.15"/>
<line x1="149.40" y1="561.90" x2="149.40" y2="553.80" stroke="#161616" stroke-width="1.15"/>
<line x1="146.40" y1="553.80" x2="152.40" y2="553.80" stroke="#161616" stroke-width="1.15"/>
<rect x="133.50" y="561.50" width="10.30" height="86.00" fill="#fff" stroke="#161616" stroke-width="1.15"/>
<rect x="143.80" y="561.90" width="11.20" height="85.60" fill="#000" stroke="#000" stroke-width="1.15"/>
<line x1="171.25" y1="589.70" x2="171.25" y2="584.30" stroke="#161616" stroke-width="1.15"/>
<line x1="168.25" y1="584.30" x2="174.25" y2="584.30" stroke="#161616" stroke-width="1.15"/>
<line x1="182.30" y1="625.70" x2="182.30" y2="621.50" stroke="#161616" stroke-width="1.15"/>
<line x1="179.30" y1="621.50" x2="185.30" y2="621.50" stroke="#161616" stroke-width="1.15"/>
<rect x="165.60" y="589.70" width="11.30" height="57.80" fill="#fff" stroke="#161616" stroke-width="1.15"/>
<rect x="176.90" y="625.70" width="10.80" height="21.80" fill="#000" stroke="#000" stroke-width="1.15"/>
<line x1="203.55" y1="603.80" x2="203.55" y2="598.50" stroke="#161616" stroke-width="1.15"/>
<line x1="200.55" y1="598.50" x2="206.55" y2="598.50" stroke="#161616" stroke-width="1.15"/>
<line x1="214.10" y1="626.50" x2="214.10" y2="622.80" stroke="#161616" stroke-width="1.15"/>
<line x1="211.10" y1="622.80" x2="217.10" y2="622.80" stroke="#161616" stroke-width="1.15"/>
<rect x="198.30" y="603.80" width="10.50" height="43.70" fill="#fff" stroke="#161616" stroke-width="1.15"/>
<rect x="208.80" y="626.50" width="10.60" height="21.00" fill="#000" stroke="#000" stroke-width="1.15"/>
<line x1="170.50" y1="576.70" x2="182.80" y2="576.70" stroke="#161616" stroke-width="1.15"/>
<line x1="170.50" y1="573.70" x2="170.50" y2="579.70" stroke="#161616" stroke-width="1.15"/>
<line x1="182.80" y1="573.70" x2="182.80" y2="579.70" stroke="#161616" stroke-width="1.15"/>
<circle cx="172.75" cy="569.10" r="1.5" fill="#111"/>
<circle cx="176.65" cy="569.10" r="1.5" fill="#111"/>
<circle cx="180.55" cy="569.10" r="1.5" fill="#111"/>
<line x1="203.50" y1="591.40" x2="214.60" y2="591.40" stroke="#161616" stroke-width="1.15"/>
<line x1="203.50" y1="588.40" x2="203.50" y2="594.40" stroke="#161616" stroke-width="1.15"/>
<line x1="214.60" y1="588.40" x2="214.60" y2="594.40" stroke="#161616" stroke-width="1.15"/>
<circle cx="205.15" cy="583.40" r="1.5" fill="#111"/>
<circle cx="209.05" cy="583.40" r="1.5" fill="#111"/>
<circle cx="212.95" cy="583.40" r="1.5" fill="#111"/>
<text x="82.95" y="659.05" font-size="10.8" text-anchor="end" font-weight="normal" fill="#111" stroke="#111" stroke-width="0.18" transform="rotate(-45 82.95 659.05)">NT</text>
<text x="116.10" y="658.25" font-size="10.8" text-anchor="end" font-weight="normal" fill="#111" stroke="#111" stroke-width="0.18" transform="rotate(-45 116.10 658.25)">GST 50 nM</text>
<text x="149.90" y="658.25" font-size="10.8" text-anchor="end" font-weight="normal" fill="#111" stroke="#111" stroke-width="0.18" transform="rotate(-45 149.90 658.25)">fMLP 10 nM</text>
<text x="183.40" y="658.25" font-size="10.8" text-anchor="end" font-weight="normal" fill="#111" stroke="#111" stroke-width="0.18" transform="rotate(-45 183.40 658.25)">IL-8 100 nM</text>
<text x="216.10" y="658.25" font-size="10.8" text-anchor="end" font-weight="normal" fill="#111" stroke="#111" stroke-width="0.18" transform="rotate(-45 216.10 658.25)">p17 50 nM</text>
<text x="38.30" y="594.40" font-size="11.5" text-anchor="middle" font-weight="normal" fill="#111" stroke="#111" stroke-width="0.4" transform="rotate(-90 38.30 594.40)">Migrated cells</text>
<rect x="226.60" y="539.30" width="11.90" height="7.80" fill="#fff" stroke="#161616" stroke-width="1.15"/>
<rect x="226.60" y="552.00" width="11.90" height="7.20" fill="#000" stroke="#000" stroke-width="1.15"/>
<text x="245.00" y="546.80" font-size="10" text-anchor="start" font-weight="normal" fill="#111" stroke="#111" stroke-width="0.18">scr siRNA</text>
<text x="245.00" y="559.20" font-size="10" text-anchor="start" font-weight="normal" fill="#111" stroke="#111" stroke-width="0.18">CXCR1 siRNA</text>
</g>
</svg>
</body></html>
